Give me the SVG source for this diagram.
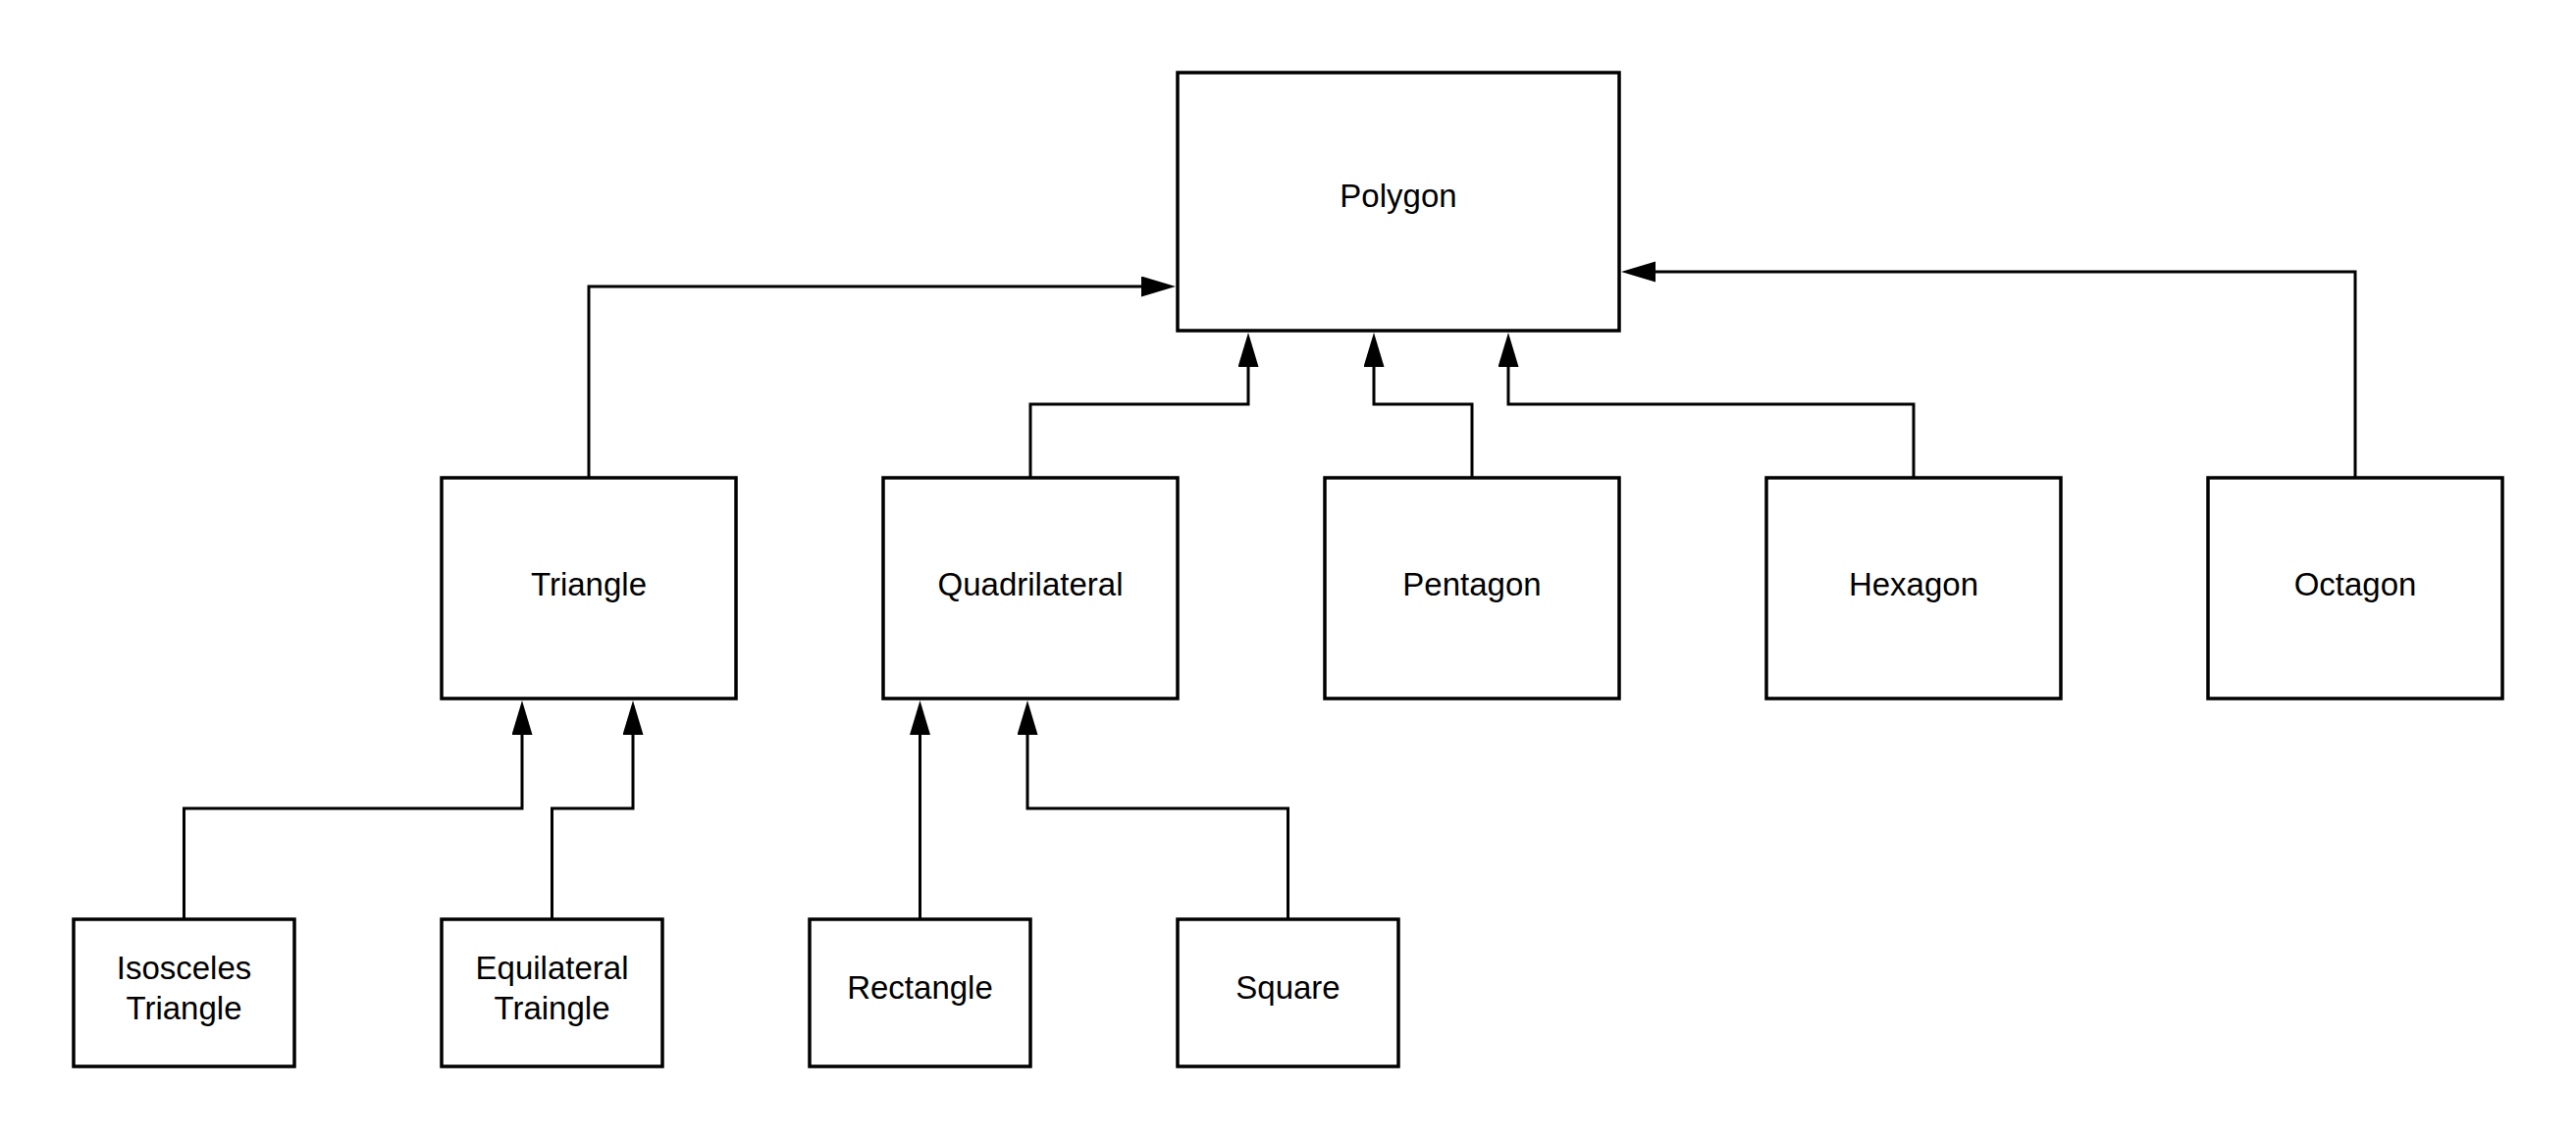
<svg xmlns="http://www.w3.org/2000/svg" width="2625" height="1163" viewBox="0 0 2625 1163">
<style>
.box{fill:#fff;stroke:#000;stroke-width:3.5}
.lbl{font-family:"Liberation Sans",Arial,sans-serif;font-size:33px;fill:#000;text-anchor:middle}
.conn{fill:none;stroke:#000;stroke-width:3;marker-end:url(#arr)}
</style>
<defs>
<marker id="arr" markerUnits="userSpaceOnUse" markerWidth="36" markerHeight="22" refX="0" refY="10.5" orient="auto" viewBox="0 0 36 22">
<path d="M0,0 L35,10.5 L0,21 z" fill="#000"/>
</marker>
</defs>
<rect width="2625" height="1163" fill="#fff"/>
<g id="connectors">
<path class="conn" d="M600 487 V292 H1163"/>
<path class="conn" d="M1050 487 V412 H1272 V374"/>
<path class="conn" d="M1500 487 V412 H1400 V374"/>
<path class="conn" d="M1950 487 V412 H1537 V374"/>
<path class="conn" d="M2400 487 V277 H1687"/>
<path class="conn" d="M187.5 937 V824 H532 V749"/>
<path class="conn" d="M562.5 937 V824 H645 V749"/>
<path class="conn" d="M937.5 937 V749"/>
<path class="conn" d="M1312.5 937 V824 H1047 V749"/>
</g>
<g id="polygon"><rect class="box" x="1200" y="74" width="450" height="263"/><text class="lbl" x="1425" y="211">Polygon</text></g>
<g id="triangle"><rect class="box" x="450" y="487" width="300" height="225"/><text class="lbl" x="600" y="607">Triangle</text></g>
<g id="quadrilateral"><rect class="box" x="900" y="487" width="300" height="225"/><text class="lbl" x="1050" y="607">Quadrilateral</text></g>
<g id="pentagon"><rect class="box" x="1350" y="487" width="300" height="225"/><text class="lbl" x="1500" y="607">Pentagon</text></g>
<g id="hexagon"><rect class="box" x="1800" y="487" width="300" height="225"/><text class="lbl" x="1950" y="607">Hexagon</text></g>
<g id="octagon"><rect class="box" x="2250" y="487" width="300" height="225"/><text class="lbl" x="2400" y="607">Octagon</text></g>
<g id="isosceles"><rect class="box" x="75" y="937" width="225" height="150"/><text class="lbl" x="187.5" y="998">Isosceles</text><text class="lbl" x="187.5" y="1039">Triangle</text></g>
<g id="equilateral"><rect class="box" x="450" y="937" width="225" height="150"/><text class="lbl" x="562.5" y="998">Equilateral</text><text class="lbl" x="562.5" y="1039">Traingle</text></g>
<g id="rectangle"><rect class="box" x="825" y="937" width="225" height="150"/><text class="lbl" x="937.5" y="1018">Rectangle</text></g>
<g id="square"><rect class="box" x="1200" y="937" width="225" height="150"/><text class="lbl" x="1312.5" y="1018">Square</text></g>
</svg>
